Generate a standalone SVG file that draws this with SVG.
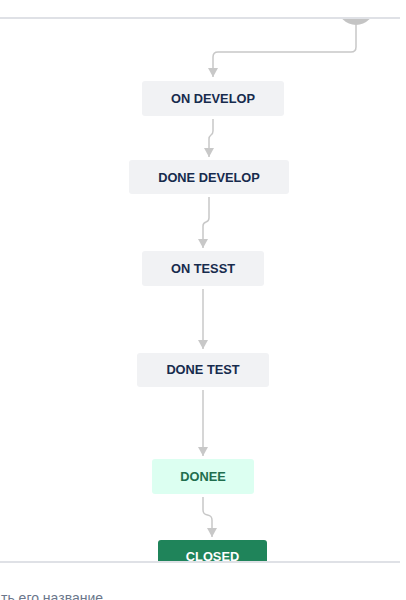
<svg xmlns="http://www.w3.org/2000/svg" width="406" height="600" viewBox="0 0 406 600">
<style>
.node rect{fill:#f1f2f4}
.node text{font-family:"Liberation Sans",Arial,sans-serif;font-weight:bold;font-size:12.8px;fill:#172b4d;text-anchor:middle}
#done rect{fill:#dcfff1}
#done text{fill:#216e4e}
#closed rect{fill:#1f845a}
#closed text{fill:#ffffff}
.conn path{fill:none;stroke:#c8c8c8;stroke-width:1.5}
.sep{fill:#dfe1e6}
.foot{font-family:"Liberation Sans",Arial,sans-serif;font-size:14px;fill:#6b778c}
</style>
<defs>
<clipPath id="area"><rect x="0" y="19" width="400" height="542"/></clipPath>
<marker id="arr" viewBox="0 0 9 10" refX="9" refY="5" markerWidth="9" markerHeight="10" markerUnits="userSpaceOnUse" orient="auto">
<path d="M0,0 L9,5 L0,10 z" fill="#c8c8c8"/>
</marker>
</defs>
<rect width="406" height="600" fill="#ffffff"/>
<g clip-path="url(#area)">
<g id="start"><circle cx="356" cy="6.5" r="18.5" fill="#c4c4c4"/></g>
<g class="conn" id="connectors">
<path d="M356,24 V47 Q356,52 351,52 H218 Q213,52 213,57 V77" marker-end="url(#arr)"/>
<path d="M213,119 V131 C213,136 209,134 209,139 V157" marker-end="url(#arr)"/>
<path d="M209,197 V218 C209,224 203,220 203,226 V248" marker-end="url(#arr)"/>
<path d="M203,289 V349" marker-end="url(#arr)"/>
<path d="M203,390 V456" marker-end="url(#arr)"/>
<path d="M203,497 V510 C203,518 212,512 212,520 V537" marker-end="url(#arr)"/>
</g>
<g class="node" id="on-develop"><rect x="142" y="81" width="142" height="35" rx="3"/><text x="213" y="102.8">ON DEVELOP</text></g>
<g class="node" id="done-develop"><rect x="129" y="160" width="160" height="34" rx="3"/><text x="209" y="182">DONE DEVELOP</text></g>
<g class="node" id="on-tesst"><rect x="142" y="251" width="122" height="35" rx="3"/><text x="203" y="272.8">ON TESST</text></g>
<g class="node" id="done-test"><rect x="137" y="353" width="132" height="34" rx="3"/><text x="203" y="374.2">DONE TEST</text></g>
<g class="node" id="done"><rect x="152" y="459" width="102" height="35" rx="3"/><text x="203" y="481">DONEE</text></g>
<g class="node" id="closed"><rect x="158" y="540" width="109" height="35" rx="3"/><text x="212.5" y="560.6">CLOSED</text></g>
</g>
<rect class="sep" x="0" y="17" width="400" height="2"/>
<rect class="sep" x="0" y="561" width="400" height="2"/>
<text class="foot" x="1" y="602.5">ть его название</text>
</svg>
